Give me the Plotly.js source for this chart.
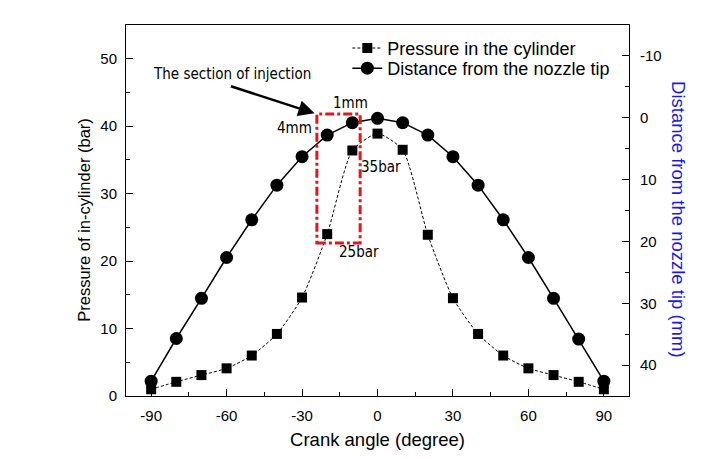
<!DOCTYPE html>
<html>
<head>
<meta charset="utf-8">
<script src="https://cdn.plot.ly/plotly-3.0.1.min.js"></script>
<style>html,body{margin:0;padding:0;background:#fff;}#chart{width:707px;height:459px;}</style>
</head>
<body>
<div id="chart"></div>
<script>
// Crank angle (degree)
const crankAngle = [-90, -80, -70, -60, -50, -40, -30, -20, -10, 0, 10, 20, 30, 40, 50, 60, 70, 80, 90];
// Pressure in the cylinder (bar), left axis
const pressure = [1.0, 2.1, 3.1, 4.1, 6.0, 9.2, 14.6, 24.0, 36.4, 38.9, 36.5, 23.9, 14.5, 9.2, 6.0, 4.1, 3.1, 2.1, 1.0];
// Distance from the nozzle tip (mm), right axis (reversed)
const distance = [42.6, 35.7, 29.2, 22.6, 16.5, 10.9, 6.3, 2.8, 0.8, 0.1, 0.8, 2.8, 6.3, 10.9, 16.5, 22.6, 29.2, 35.8, 42.6];

const xTicks = [-90, -60, -30, 0, 30, 60, 90];
const xTickText = ['-90', '-60', '-30', '0', '30', '60', '90'];
const yTicks = [0, 10, 20, 30, 40, 50];
const y2Ticks = [-10, 0, 10, 20, 30, 40];
const y2TickText = ['-10', '0', '10', '20', '30', '40'];

const seriesNames = ['Pressure in the cylinder', 'Distance from the nozzle tip'];
const xTitle = 'Crank angle (degree)';
const yTitle = 'Pressure of in-cylinder (bar)';
const y2Title = 'Distance from the nozzle tip (mm)';
const sectionText = 'The section of injection';
const sectionBox = {x0: -24.1, x1: -6.9, y0: 22.7, y1: 41.8};
const labelTexts = ['1mm', '4mm', '35bar', '25bar'];
const labelX = [-10.7, -33.2, 1.2, -7.5];
const labelY = [43.5, 39.7, 33.9, 21.3];

const baseFont = 'Liberation Sans, Arial, sans-serif';
const narrowFont = 'Liberation Sans Narrow, DejaVu Sans Condensed, Liberation Sans, Arial, sans-serif';

const traces = [
  {
    x: crankAngle, y: pressure, name: seriesNames[0], type: 'scatter', mode: 'lines+markers',
    line: {color: '#000', width: 1, dash: '3px,2px', shape: 'spline', smoothing: 0.6},
    marker: {symbol: 'square', size: 10, color: '#000'},
    yaxis: 'y', legend: 'legend'
  },
  {
    x: crankAngle, y: distance, name: seriesNames[1], type: 'scatter', mode: 'lines+markers',
    line: {color: '#000', width: 1.5},
    marker: {symbol: 'circle', size: 13, color: '#000'},
    yaxis: 'y2', legend: 'legend2'
  }
];

const annotations = labelTexts.map((t, i) => ({
  x: labelX[i], y: labelY[i], xref: 'x', yref: 'y', text: t, showarrow: false,
  font: {family: narrowFont, size: 15, color: '#000'}
}));
annotations.push({
  x: -57.7, y: 47.7, xref: 'x', yref: 'y', text: sectionText, showarrow: false,
  font: {family: narrowFont, size: 15, color: '#000'}
});
annotations.push({
  x: -25.0, y: 41.9, xref: 'x', yref: 'y', ax: -58.9, ay: 46.0, axref: 'x', ayref: 'y',
  text: '', showarrow: true, arrowhead: 2, arrowsize: 1.3, arrowwidth: 2.5, arrowcolor: '#000'
});
annotations.push({
  x: 1, xref: 'paper', xshift: 50, xanchor: 'center', y: 0.477, yref: 'paper', yanchor: 'middle', text: y2Title,
  showarrow: false, textangle: 90, font: {family: baseFont, size: 18.5, color: '#1a1ae6'}
});
annotations.push({
  x: 0, xref: 'paper', xshift: -42, xanchor: 'center', y: 0.475, yref: 'paper', yanchor: 'middle', text: yTitle,
  showarrow: false, textangle: -90, font: {family: baseFont, size: 16.5, color: '#000'}
});

const legendFont = {family: baseFont, size: 18, color: '#000'};

const layout = {
  width: 707, height: 459,
  margin: {l: 126, r: 78, t: 25, b: 63, pad: 0},
  paper_bgcolor: '#fff', plot_bgcolor: '#fff',
  showlegend: true,
  legend: {x: 0.44, y: 0.987, xanchor: 'left', yanchor: 'top', bgcolor: 'rgba(0,0,0,0)',
    font: legendFont, itemwidth: 30},
  legend2: {x: 0.44, y: 0.9326, xanchor: 'left', yanchor: 'top', bgcolor: 'rgba(0,0,0,0)',
    font: legendFont, itemwidth: 30},
  font: {family: baseFont, color: '#000'},
  xaxis: {
    range: [-100, 100], tickvals: xTicks, ticktext: xTickText, ticks: 'inside', ticklen: 7, tickwidth: 1, tickcolor: '#000',
    minor: {dtick: 15, tick0: 0, ticks: 'inside', ticklen: 4, tickcolor: '#000'},
    showline: true, linecolor: '#000', linewidth: 1, mirror: true, showgrid: false, zeroline: false,
    tickfont: {family: baseFont, size: 15, color: '#000'}, ticklabelstandoff: 6,
    title: {text: xTitle, font: {family: baseFont, size: 18.5, color: '#000'}, standoff: 10}
  },
  yaxis: {
    range: [0, 55], tickvals: yTicks, ticks: 'inside', ticklen: 7, tickwidth: 1, tickcolor: '#000',
    minor: {dtick: 5, tick0: 0, ticks: 'inside', ticklen: 4, tickcolor: '#000'},
    showline: true, linecolor: '#000', linewidth: 1, mirror: false, showgrid: false, zeroline: false,
    tickfont: {family: baseFont, size: 15, color: '#000'}, ticklabelstandoff: 5
  },
  yaxis2: {
    range: [45, -15], overlaying: 'y', side: 'right', tickvals: y2Ticks, ticktext: y2TickText, ticks: 'inside', ticklen: 7, tickwidth: 1, tickcolor: '#000',
    minor: {dtick: 5, tick0: 0, ticks: 'inside', ticklen: 4, tickcolor: '#000'},
    showline: true, linecolor: '#000', linewidth: 1, showgrid: false, zeroline: false,
    tickfont: {family: baseFont, size: 15, color: '#000'}, ticklabelstandoff: 7
  },
  shapes: [{
    type: 'rect', xref: 'x', yref: 'y', x0: sectionBox.x0, x1: sectionBox.x1, y0: sectionBox.y0, y1: sectionBox.y1,
    line: {color: '#e01818', width: 3, dash: 'dashdot'}, fillcolor: 'rgba(0,0,0,0)'
  }],
  annotations: annotations
};

Plotly.newPlot('chart', traces, layout, {displayModeBar: false, staticPlot: true});
</script>
</body>
</html>
